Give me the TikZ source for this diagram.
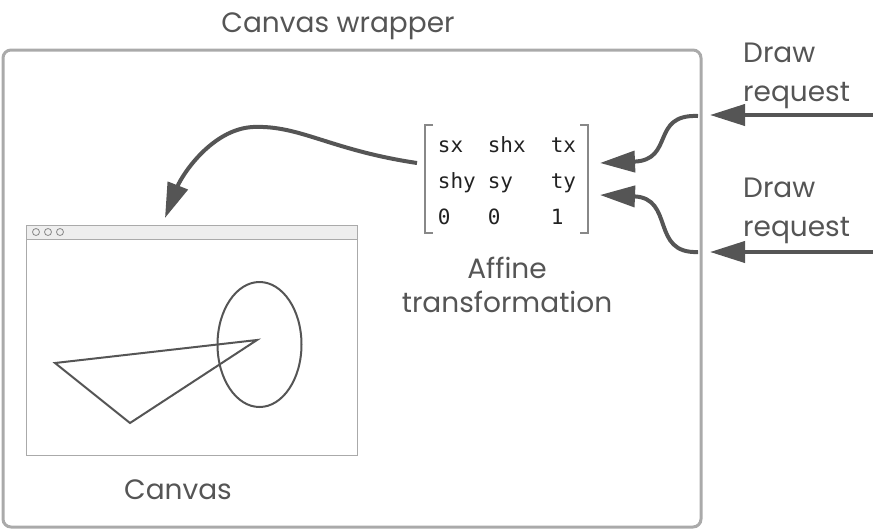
\documentclass[tikz,border=0pt]{standalone}
\usepackage{fontspec}
\setmainfont{Poppins}
\newfontfamily\monofont{DejaVu Sans Mono}
\usetikzlibrary{arrows.meta,shapes.geometric}
\definecolor{ink}{HTML}{555555}
\definecolor{framegray}{HTML}{AAAAAA}
\definecolor{bargray}{HTML}{EEEEEE}
\definecolor{brackgray}{HTML}{888888}
\definecolor{mattext}{HTML}{222222}
\begin{document}
\begin{tikzpicture}[x=1pt,y=-1pt,
  lbl/.style={text=ink,font=\fontsize{28}{39}\selectfont,inner sep=0pt},
  conn/.style={draw=ink,line width=4pt,-{Triangle[length=35pt,width=21pt]}},
  wrapbox/.style={draw=framegray,line width=3pt,rounded corners=8pt,minimum width=698pt,minimum height=477pt,inner sep=0pt,outer sep=0pt},
  winbox/.style={draw=framegray,line width=1pt,minimum width=331pt,minimum height=230pt,inner sep=0pt,anchor=north west},
  shapeline/.style={draw=ink,line width=2pt},
  brack/.style={draw=brackgray,line width=1.5pt}
]
\useasboundingbox (0,0) rectangle (873,531);

% wrapper
\node[wrapbox] (wrapper) at (352,288.5) {};
\node[lbl,anchor=base] (wraplbl) at (338,32) {Canvas wrapper};

% canvas window
\node[winbox] (win) at (26,225) {};
\draw[draw=framegray,fill=bargray,line width=1pt] (win.north west) rectangle ++(331,14);
\foreach \cx in {36,48,60}{
  \draw[draw=brackgray,fill=bargray,line width=0.8pt] (\cx,232) circle[radius=3.5];
}
\draw[shapeline,line join=miter] (55,363) -- (257,340) -- (130,423) -- cycle;
\node[shapeline,ellipse,minimum width=84pt,minimum height=125pt,inner sep=0pt] (ell) at (259.5,344.5) {};
\node[lbl,anchor=base] (canvaslbl) at (178,499) {Canvas};

% matrix
\node[text=mattext,font=\monofont\fontsize{21}{36}\selectfont,inner sep=0pt] (mat) at (507,181)
  {\begin{tabular}{@{}p{50pt}@{}p{63pt}@{}l@{}}sx & shx & tx\\ shy & sy & ty\\ 0 & 0 & 1\end{tabular}};
\draw[brack] (433,125) -- (425,125) -- (425,233) -- (433,233);
\draw[brack] (580,125) -- (588,125) -- (588,233) -- (580,233);
\node[lbl,align=center] (afflbl) at (507,285) {Affine\\[-5pt]transformation};

% draw requests
\node[lbl,align=left,anchor=west] (req1) at (743,76) {Draw\\request};
\node[lbl,align=left,anchor=west] (req2) at (743,211) {Draw\\request};

% connectors
\coordinate (in1) at (873,115);
\coordinate (tip1) at (710,115);
\coordinate (in2) at (873,252);
\coordinate (tip2) at (710,252);
\coordinate (s1) at (698,116);
\coordinate (s2) at (698,252);
\coordinate (m1) at (600,163);
\coordinate (m2) at (600,195);
\coordinate (matL) at (417,163);
\coordinate (winT) at (165,218);

\draw[conn] (in1) -- (tip1);
\draw[conn] (in2) -- (tip2);
\draw[conn] (s1) .. controls (650,114) and (675,160) .. (m1);
\draw[conn] (s2) .. controls (650,254) and (675,198) .. (m2);
\draw[conn] (matL) .. controls (330,150) and (300,125) .. (253,127) .. controls (212,129) and (182,175) .. (winT);
\end{tikzpicture}
\end{document}
